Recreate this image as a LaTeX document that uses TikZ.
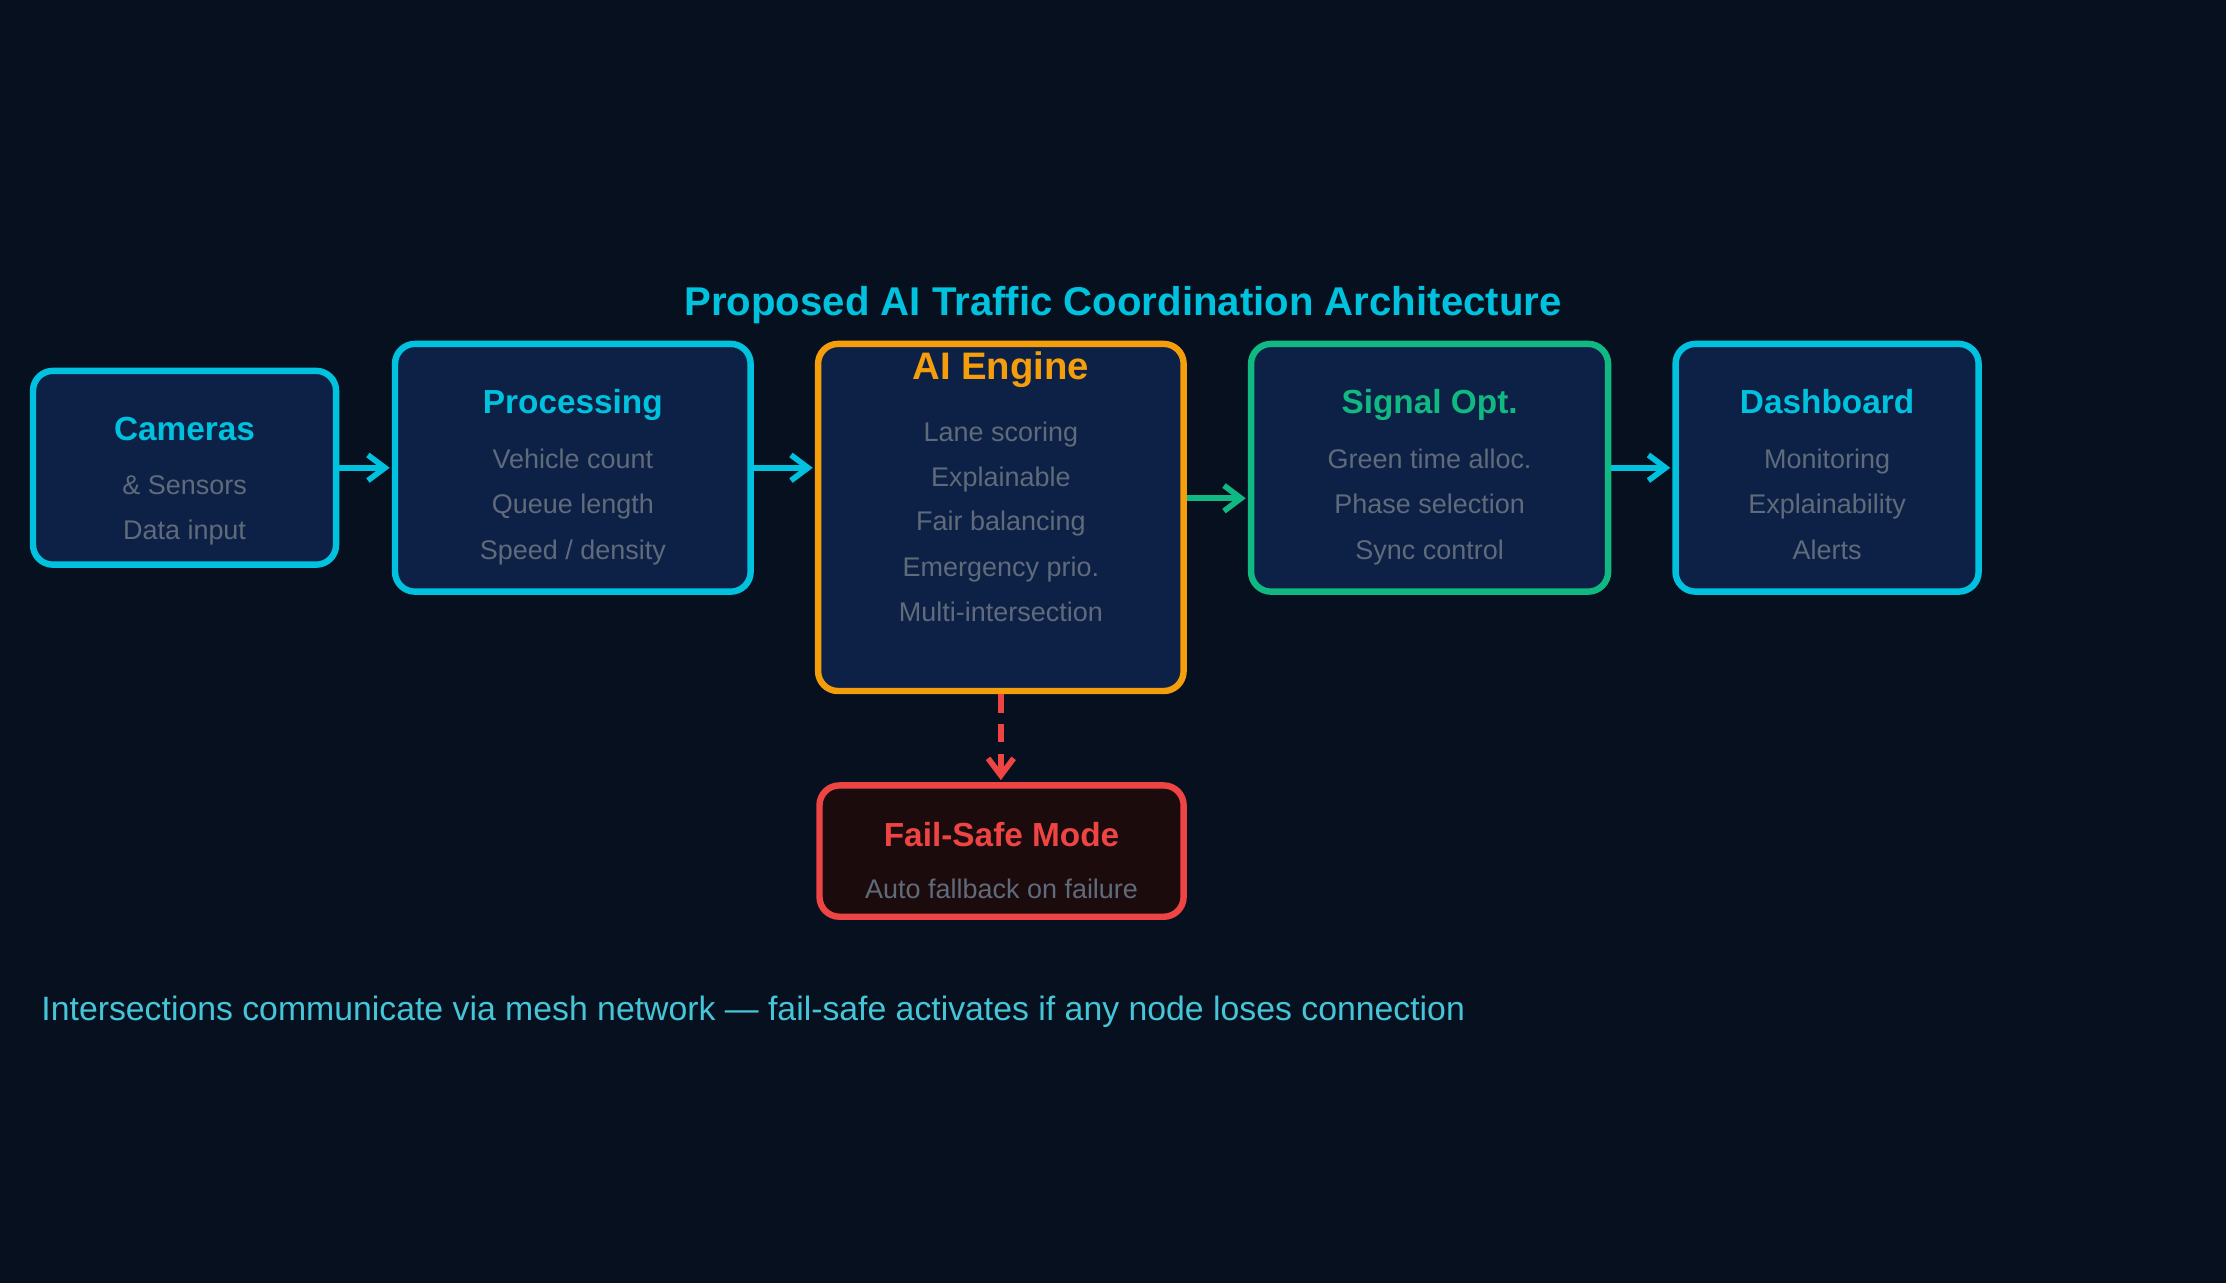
\documentclass[tikz,border=0pt]{standalone}
\usepackage{fontspec}
\setmainfont{Liberation Sans}
\usetikzlibrary{arrows.meta}

\definecolor{bg}{HTML}{07101F}
\definecolor{panel}{HTML}{0D2147}
\definecolor{accCyan}{HTML}{00C2DE}
\definecolor{accAmber}{HTML}{F59E0B}
\definecolor{accGreen}{HTML}{10B981}
\definecolor{accRed}{HTML}{EF4444}
\definecolor{mutedText}{HTML}{5F6B7A}
\definecolor{failFill}{HTML}{1C0B0D}
\definecolor{noteText}{HTML}{45C6D8}

\begin{document}
\begin{tikzpicture}[x=1pt,y=-1pt,
  stage/.style={draw=#1, line width=4.5pt, rounded corners=14pt, fill=panel,
    inner sep=0pt, rectangle},
  heading/.style={anchor=base, inner sep=0pt, text=#1,
    font=\fontsize{23.5}{27}\selectfont\bfseries},
  detail/.style={anchor=base, inner sep=0pt, text=mutedText,
    font=\fontsize{19}{23}\selectfont},
  flow/.style={draw=#1, line width=4pt,
    arrows={-Straight Barb[length=12pt,width=18pt]}, shorten >=1.5pt},
]
% canvas
\useasboundingbox (0,0) rectangle (1568,904);
\fill[bg] (0,0) rectangle (1568,904);

% title
\node[anchor=base, inner sep=0pt, text=accCyan,
  font=\fontsize{28.3}{32}\selectfont\bfseries] (title) at (791,222)
  {Proposed AI Traffic Coordination Architecture};

% pipeline stages
\node[stage=accCyan, minimum width=213.5pt, minimum height=136.5pt] (cam) at (130,329.5) {};
\node[stage=accCyan, minimum width=250.5pt, minimum height=174.5pt] (proc) at (403.5,329.5) {};
\node[stage=accAmber, minimum width=257.5pt, minimum height=244.5pt] (ai) at (705,364.5) {};
\node[stage=accGreen, minimum width=251.5pt, minimum height=174.5pt] (sig) at (1007,329.5) {};
\node[stage=accCyan, minimum width=213.5pt, minimum height=174.5pt] (dash) at (1287,329.5) {};
\node[stage=accRed, fill=failFill, minimum width=256.5pt, minimum height=92.5pt] (fs) at (705.5,599.5) {};

% stage texts
\node[heading=accCyan] (camT) at (130,310) {Cameras};
\node[detail] (camA) at (130,348) {\& Sensors};
\node[detail] (camB) at (130,380) {Data input};

\node[heading=accCyan] (procT) at (403.5,291) {Processing};
\node[detail] (procA) at (403.5,330) {Vehicle count};
\node[detail] (procB) at (403.5,362) {Queue length};
\node[detail] (procC) at (403.5,394) {Speed / density};

\node[anchor=base, inner sep=0pt, text=accAmber,
  font=\fontsize{27}{31}\selectfont\bfseries] (aiT) at (705,267) {AI Engine};
\node[detail] (aiA) at (705,311) {Lane scoring};
\node[detail] (aiB) at (705,343) {Explainable};
\node[detail] (aiC) at (705,374) {Fair balancing};
\node[detail] (aiD) at (705,406) {Emergency prio.};
\node[detail] (aiE) at (705,438) {Multi-intersection};

\node[heading=accGreen] (sigT) at (1007,291) {Signal Opt.};
\node[detail] (sigA) at (1007,330) {Green time alloc.};
\node[detail] (sigB) at (1007,362) {Phase selection};
\node[detail] (sigC) at (1007,394) {Sync control};

\node[heading=accCyan] (dashT) at (1287,291) {Dashboard};
\node[detail] (dashA) at (1287,330) {Monitoring};
\node[detail] (dashB) at (1287,362) {Explainability};
\node[detail] (dashC) at (1287,394) {Alerts};

\node[heading=accRed] (fsT) at (705.5,596.5) {Fail-Safe Mode};
\node[detail] (fsA) at (705.5,633) {Auto fallback on failure};

% connectors
\draw[flow=accCyan] (cam.east) -- (proc.west);
\draw[flow=accCyan] (proc.east) -- (proc.east -| ai.west);
\coordinate (aiOut) at ([yshift=13.5pt]ai.east);
\draw[flow=accGreen] (aiOut) -- (aiOut -| sig.west);
\draw[flow=accCyan] (sig.east) -- (dash.west);
\draw[flow=accRed, dash pattern=on 13pt off 8pt] (ai.south) -- (ai.south |- fs.north);

% footnote
\node[anchor=base west, inner sep=0pt, text=noteText,
  font=\fontsize{23.8}{27}\selectfont] (note) at (29,718.5)
  {Intersections communicate via mesh network — fail-safe activates if any node loses connection};
\end{tikzpicture}
\end{document}
